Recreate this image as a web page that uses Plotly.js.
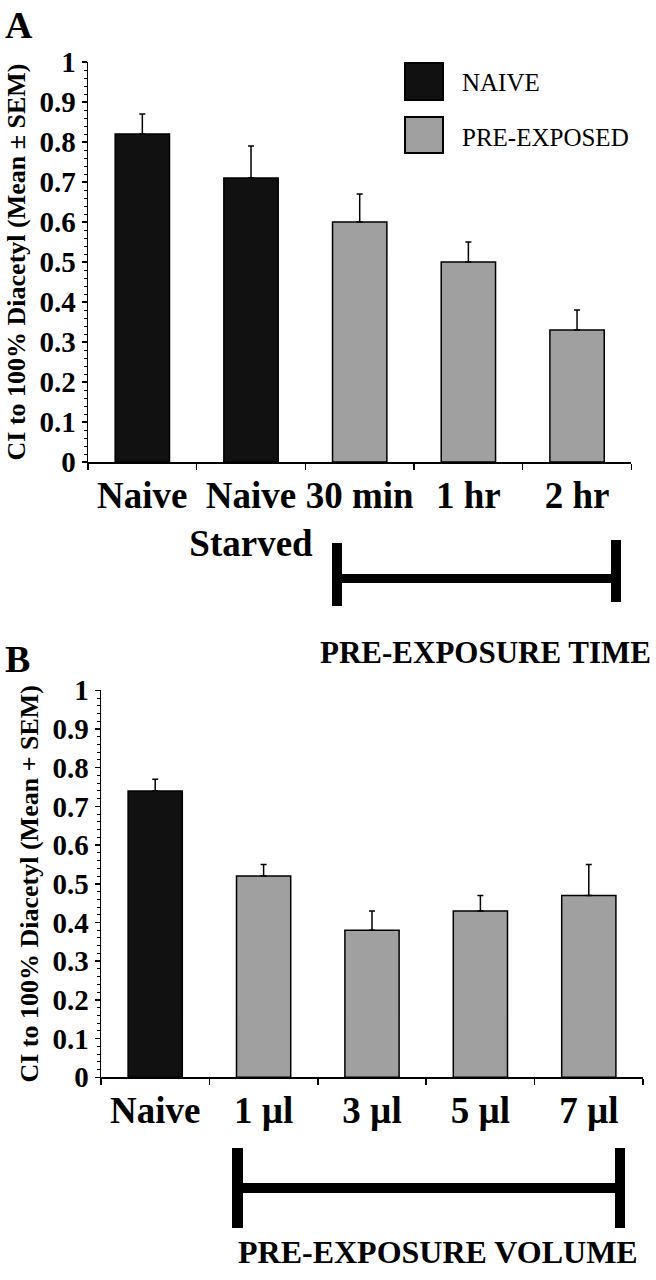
<!DOCTYPE html>
<html>
<head>
<meta charset="utf-8">
<script src="https://cdn.plot.ly/plotly-3.0.1.min.js"></script>
<style>
  html, body { margin: 0; padding: 0; background: #fff; }
  #chart { width: 656px; height: 1280px; }
</style>
</head>
<body>
<div id="chart"></div>
<script>
// ---------- Data ----------
const groups = ["NAIVE", "PRE-EXPOSED"];
const groupColors = ["#111111", "#a0a0a0"];

// Panel A: pre-exposure time
const catsA = ["Naive", "Naive<br>Starved", "30 min", "1 hr", "2 hr"];
const meanA = [0.82, 0.71, 0.60, 0.50, 0.33];
const semA  = [0.05, 0.08, 0.07, 0.05, 0.05];
const groupA = ["NAIVE", "NAIVE", "PRE-EXPOSED", "PRE-EXPOSED", "PRE-EXPOSED"];

// Panel B: pre-exposure volume
const catsB = ["Naive", "1 µl", "3 µl", "5 µl", "7 µl"];
const meanB = [0.74, 0.52, 0.38, 0.43, 0.47];
const semB  = [0.03, 0.03, 0.05, 0.04, 0.08];
const groupB = ["NAIVE", "PRE-EXPOSED", "PRE-EXPOSED", "PRE-EXPOSED", "PRE-EXPOSED"];

const yTitleA = "CI to 100% Diacetyl (Mean ± SEM)";
const yTitleB = "CI to 100% Diacetyl (Mean + SEM)";
const bracketLabelA = "PRE-EXPOSURE TIME";
const bracketLabelB = "PRE-EXPOSURE VOLUME";

// ---------- Helpers ----------
const W = 656, H = 1280;
const px = x => x / W;
const py = y => 1 - y / H;
const SERIF = "Liberation Serif, Times New Roman, serif";
const colorOf = g => groupColors[groups.indexOf(g)];

function barTrace(cats, means, sems, grp, xa, ya) {
  return {
    type: "bar",
    x: cats, y: means,
    xaxis: xa, yaxis: ya,
    width: 0.5,
    marker: { color: grp.map(colorOf), line: { color: "#000", width: 1.5 } },
    error_y: {
      type: "data", symmetric: false,
      array: sems, arrayminus: sems.map(() => 0),
      color: "#000", thickness: 1.5, width: 3
    },
    showlegend: false,
    hoverinfo: "x+y"
  };
}

function xAxis(domain, anchor) {
  return {
    domain: domain, anchor: anchor, type: "category",
    range: [-0.5, 4.5],
    showline: true, linecolor: "#000", linewidth: 1.5,
    ticks: "outside", tickson: "boundaries", ticklen: 6, tickwidth: 1.5, tickcolor: "#000",
    tickangle: 0,
    showgrid: false, zeroline: false,
    tickfont: { family: SERIF, size: 37, color: "#000", weight: "bold" },
    fixedrange: true
  };
}
function yAxis(domain, anchor, title) {
  return {
    domain: domain, anchor: anchor,
    range: [0, 1], dtick: 0.1, tick0: 0,
    showline: true, linecolor: "#000", linewidth: 1.5,
    ticks: "outside", ticklen: 5, tickwidth: 1.5, tickcolor: "#000",
    minor: { dtick: 0.02, ticks: "outside", ticklen: 3, tickwidth: 1, tickcolor: "#000", showgrid: false },
    showgrid: false, zeroline: false,
    tickfont: { family: SERIF, size: 29, color: "#000", weight: "bold" },
    title: { text: title, font: { family: SERIF, size: 26, color: "#000", weight: "bold" }, standoff: 6 },
    fixedrange: true
  };
}

function rect(x0, y0, x1, y1) {
  return { type: "rect", xref: "paper", yref: "paper",
           x0: px(x0), x1: px(x1), y0: py(y1), y1: py(y0),
           fillcolor: "#000", line: { width: 0 } };
}
function legendBox(x0, y0, x1, y1, color) {
  return { type: "rect", xref: "paper", yref: "paper",
           x0: px(x0), x1: px(x1), y0: py(y1), y1: py(y0),
           fillcolor: color, line: { color: "#000", width: 2 } };
}
function label(text, x, y, size, bold, xanchor) {
  return { text: text, xref: "paper", yref: "paper", x: px(x), y: py(y),
           xanchor: xanchor || "left", yanchor: "middle", showarrow: false,
           font: { family: SERIF, size: size, color: "#000", weight: bold ? "bold" : "normal" } };
}

const data = [
  barTrace(catsA, meanA, semA, groupA, "x", "y"),
  barTrace(catsB, meanB, semB, groupB, "x2", "y2")
];

const layout = {
  width: W, height: H,
  margin: { l: 0, r: 0, t: 0, b: 0 },
  paper_bgcolor: "#fff", plot_bgcolor: "#fff",
  showlegend: false,
  bargap: 0.5,
  xaxis:  xAxis([px(88), px(631.4)], "y"),
  yaxis:  yAxis([py(462), py(62)], "x", yTitleA),
  xaxis2: xAxis([px(101), px(643)], "y2"),
  yaxis2: yAxis([py(1077.3), py(690.3)], "x2", yTitleB),
  shapes: [
    // legend swatches
    legendBox(405, 63, 443, 100, colorOf(groups[0])),
    legendBox(405, 117, 443, 153, colorOf(groups[1])),
    // bracket A
    rect(332, 543, 342, 606),
    rect(611, 540, 621, 602),
    rect(337, 574, 616, 583),
    // bracket B
    rect(232, 1148, 243, 1228),
    rect(615, 1148, 625, 1228),
    rect(237, 1183, 620, 1193)
  ],
  annotations: [
    label("A", 3, 25, 38, true),
    label("B", 3, 659, 38, true),
    label(groups[0], 460, 83, 25, false),
    label(groups[1], 460, 137, 25, false),
    label(bracketLabelA, 653, 652, 31, true, "right"),
    label(bracketLabelB, 640, 1252, 32, true, "right")
  ]
};

Plotly.newPlot("chart", data, layout, { displayModeBar: false, staticPlot: true });
</script>
</body>
</html>
